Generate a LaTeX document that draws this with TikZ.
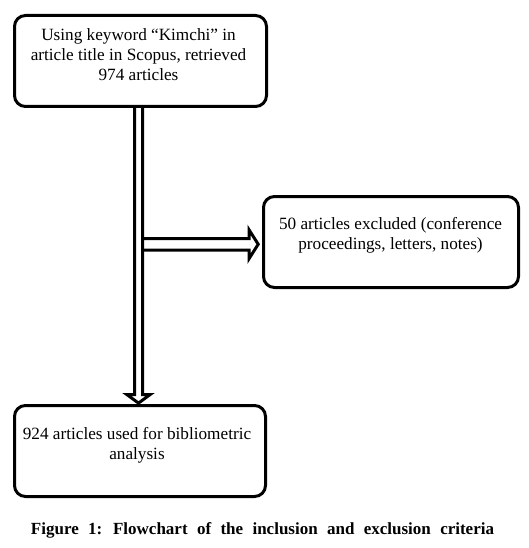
\documentclass[tikz,border=0pt]{standalone}
\usepackage{fontspec}
\setmainfont{Liberation Serif}
\newfontfamily\capfont[WordSpace=2.2]{Liberation Serif}
\usetikzlibrary{calc}
\tikzset{
  box/.style={draw, line width=3pt, rounded corners=11pt, inner sep=0pt},
  boxtext/.style={align=center, inner sep=0pt, font=\fontsize{17.2}{20}\selectfont},
  blockarrow/.style={draw, line width=3pt, line join=miter},
}
\begin{document}
\begin{tikzpicture}[x=1pt,y=-1pt]
\useasboundingbox (0,0) rectangle (529,548);
% boxes
\node[box, minimum width=252pt, minimum height=91pt] (b1) at (140.5,61) {};
\node[box, minimum width=255pt, minimum height=91pt] (b2) at (391,242) {};
\node[box, minimum width=251pt, minimum height=91pt] (b3) at (140,451) {};
% texts
\node[boxtext] (t1) at (138.5,55) {Using keyword “Kimchi” in\\article title in Scopus, retrieved\\974 articles};
\node[boxtext] (t2) at (390.5,235.5) {50 articles excluded (conference\\proceedings, letters, notes)};
\node[boxtext] (t3) at (137,445) {924 articles used for bibliometric\\analysis};
% connector anchor points
\path (b1.south) ++(-2,-1.5) coordinate (vtop);
\path (b3.north) ++(-1.5,-0.9) coordinate (vtip);
\path (b2.west) ++(-3.8,2.25) coordinate (htip);
\coordinate (vr) at ($(vtop)+(4,0)$);
\coordinate (hs) at (vr |- htip);
% horizontal block arrow
\draw[blockarrow] ($(hs)+(0,-5.75)$) -- ($(htip)+(-9.2,-5.75)$) -- ($(htip)+(-9.2,-14.5)$) -- (htip)
  -- ($(htip)+(-9.2,14.5)$) -- ($(htip)+(-9.2,5.75)$) -- ($(hs)+(0,5.75)$);
% vertical block arrow
\draw[blockarrow] ($(vtop)+(-4,0)$) -- ($(vtip)+(-4,-8.6)$) -- ($(vtip)+(-11.7,-8.6)$) -- (vtip)
  -- ($(vtip)+(11.7,-8.6)$) -- ($(vtip)+(4,-8.6)$) -- ($(vtop)+(4,0)$);
% caption
\node[anchor=base, inner sep=0pt, font=\capfont\bfseries\fontsize{17}{19}\selectfont] (cap) at (262.5,534) {Figure 1: Flowchart of the inclusion and exclusion criteria};
\end{tikzpicture}
\end{document}
